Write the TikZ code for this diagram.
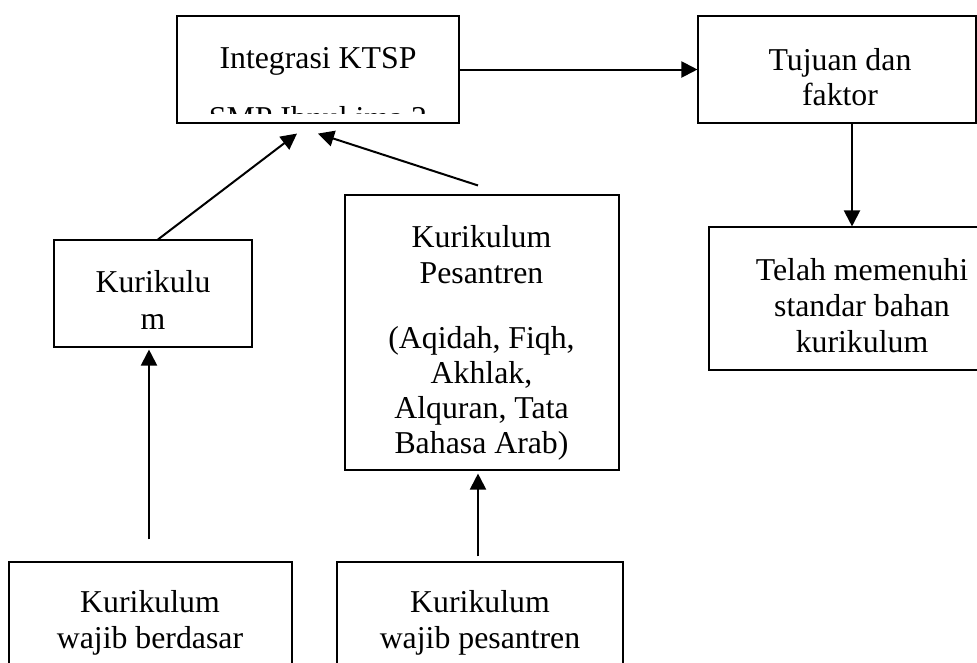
\documentclass[tikz,border=0pt]{standalone}
\usepackage{fontspec}
\setmainfont{Liberation Serif}
\usetikzlibrary{arrows.meta,calc}
\begin{document}
\begin{tikzpicture}[x=1pt,y=-1pt,
  box/.style={draw, line width=1.1pt, inner sep=0pt},
  txt/.style={anchor=base, inner sep=0pt, font=\fontsize{31.8}{36}\selectfont},
  arr/.style={line width=2pt, -{Triangle[length=16pt,width=16pt]}}]
\clip (0,0) rectangle (977,662);
% boxes
\node[box, minimum width=282pt, minimum height=107pt] (integ) at (318,69.5) {};
\node[box, minimum width=278pt, minimum height=107pt] (tujuan) at (837,69.5) {};
\node[box, minimum width=306pt, minimum height=143pt] (telah) at (862,298.5) {};
\node[box, minimum width=198pt, minimum height=107pt] (kurm) at (153,293.5) {};
\node[box, minimum width=274pt, minimum height=275pt] (pes) at (482,332.5) {};
\node[box, minimum width=283pt, minimum height=160pt] (bl) at (150.5,642) {};
\node[box, minimum width=286pt, minimum height=160pt] (br) at (480,642) {};
% texts
\node[txt] (t1) at (318,68) {Integrasi KTSP};
\begin{scope}
\clip (177,16) rectangle (459,113);
\node[txt] (t2) at (318,128) {SMP Ibnul ima 2};
\end{scope}
\node[txt] (t3) at (840,70) {Tujuan dan};
\node[txt] (t4) at (840,105) {faktor};
\node[txt] (t5) at (862,280) {Telah memenuhi};
\node[txt] (t6) at (862,316) {standar bahan};
\node[txt] (t7) at (862,352) {kurikulum};
\node[txt] (t8) at (153,292) {Kurikulu};
\node[txt] (t9) at (153,329) {m};
\node[txt] (t10) at (481.5,247) {Kurikulum};
\node[txt] (t11) at (481.5,283) {Pesantren};
\node[txt] (t12) at (481.5,348) {(Aqidah, Fiqh,};
\node[txt] (t13) at (481.5,383) {Akhlak,};
\node[txt] (t14) at (481.5,418) {Alquran, Tata};
\node[txt] (t15) at (481.5,453) {Bahasa Arab)};
\node[txt] (t16) at (150,612) {Kurikulum};
\node[txt] (t17) at (150,648) {wajib berdasar};
\node[txt] (t18) at (480,612) {Kurikulum};
\node[txt] (t19) at (480,648) {wajib pesantren};
% connectors
\draw[arr] (integ) -- (tujuan);
\draw[arr] ($(tujuan.south)+(15,0)$) -- ($(telah.north)+(-10,0)$);
\draw[arr] ($(kurm.north)+(5,0)$) -- ($(integ.south)+(-21,10)$);
\draw[arr] ($(pes.north)+(-4,-9)$) -- ($(integ.south)+(0,10)$);
\draw[arr] ($(bl.north)+(-1.5,-22)$) -- ($(kurm.south)+(-4,2)$);
\draw[arr] ($(br.north)+(-2,-5)$) -- ($(pes.south)+(-4,3)$);
\end{tikzpicture}
\end{document}
